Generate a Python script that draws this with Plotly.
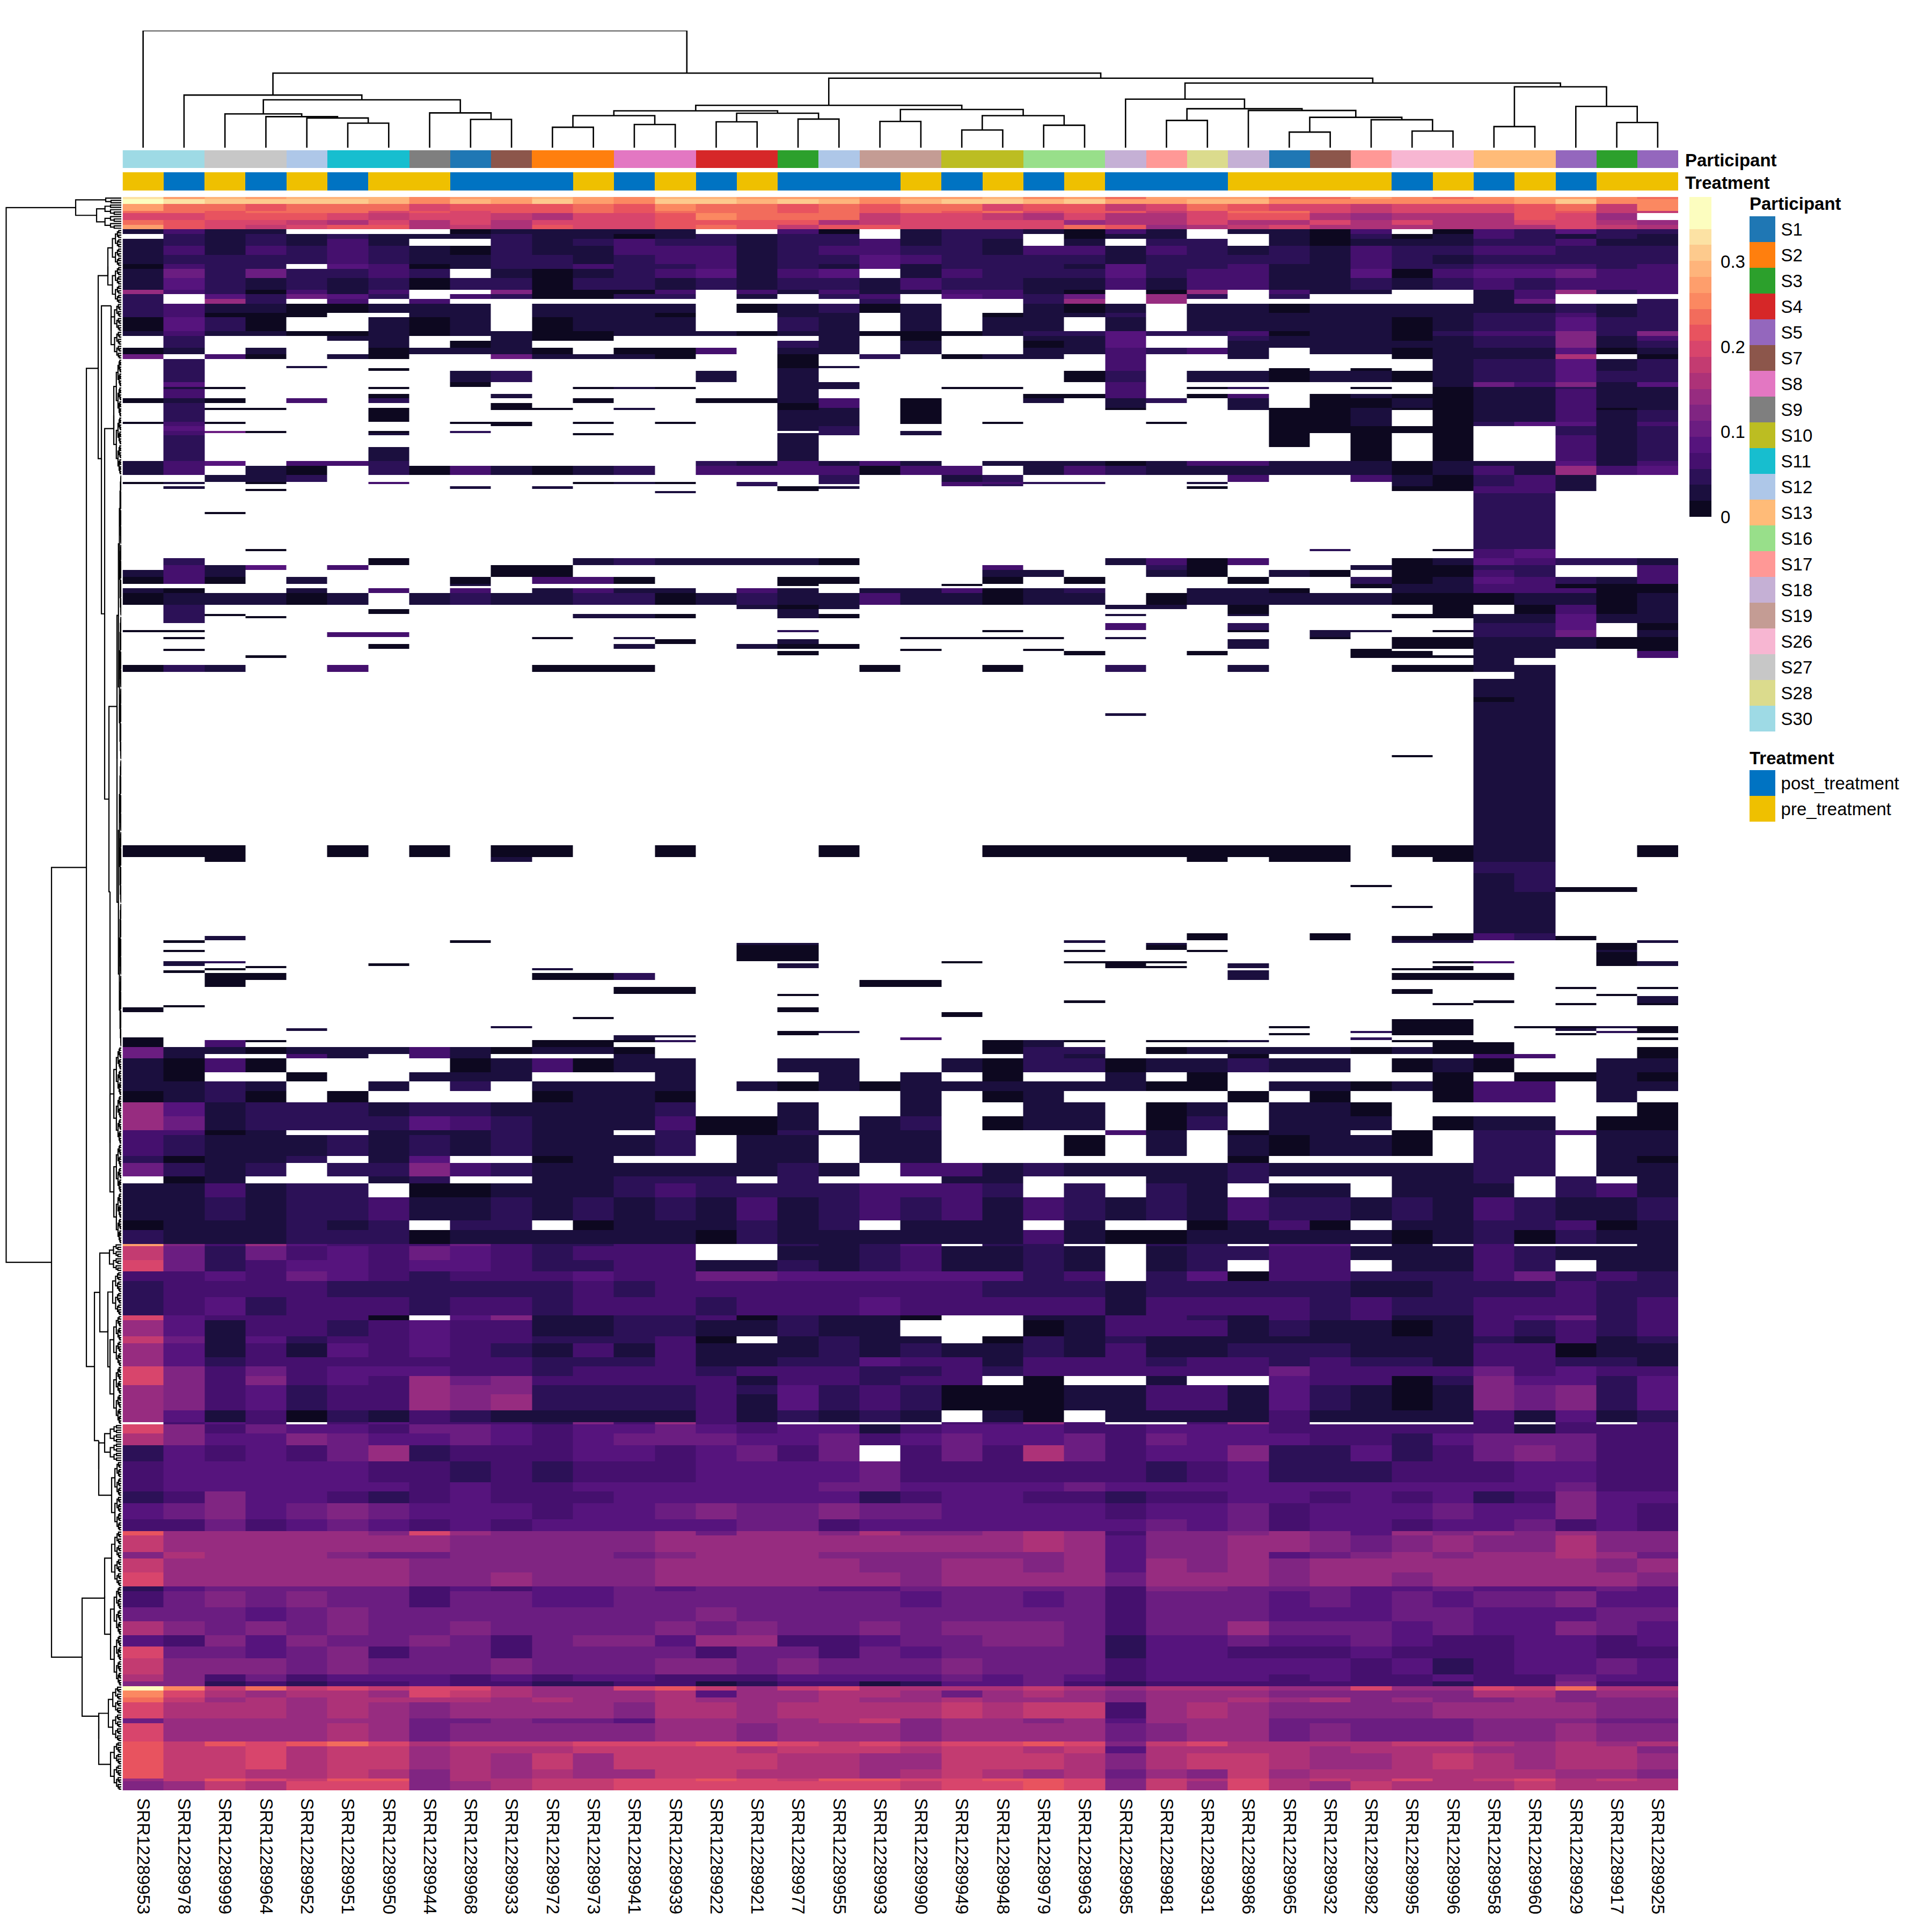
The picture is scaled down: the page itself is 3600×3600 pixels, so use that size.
import plotly.graph_objects as go

W, H = 3600, 3600
SAMPLES = ["SRR12289953","SRR12289978","SRR12289999","SRR12289964","SRR12289952","SRR12289951","SRR12289950","SRR12289944","SRR12289968","SRR12289933",
"SRR12289972","SRR12289973","SRR12289941","SRR12289939","SRR12289922","SRR12289921","SRR12289977","SRR12289955","SRR12289993","SRR12289990",
"SRR12289949","SRR12289948","SRR12289979","SRR12289963","SRR12289985","SRR12289981","SRR12289931","SRR12289986","SRR12289965","SRR12289932",
"SRR12289982","SRR12289995","SRR12289996","SRR12289958","SRR12289960","SRR12289929","SRR12289917","SRR12289925"]
PARTICIPANT = ["S30","S30","S27","S27","S12","S11","S11","S9","S1","S7","S2","S2","S8","S8","S4","S4","S3","S12","S19","S19",
"S10","S10","S16","S16","S18","S17","S28","S18","S1","S7","S17","S26","S26","S13","S13","S5","S3","S5"]
TREATMENT = ["pre","post","pre","post","pre","post","pre","pre","post","post","post","pre","post","pre","post","pre","post","post","post","pre",
"post","pre","post","pre","post","post","post","pre","pre","pre","pre","post","pre","post","pre","post","pre","pre"]
P_NAMES = ["S1","S2","S3","S4","S5","S7","S8","S9","S10","S11","S12","S13","S16","S17","S18","S19","S26","S27","S28","S30"]
P_COLORS = ["#1F77B4","#FF7F0E","#2CA02C","#D62728","#9467BD","#8C564B","#E377C2","#7F7F7F","#BCBD22","#17BECF","#AEC7E8","#FFBB78","#98DF8A","#FF9896","#C5B0D5","#C49C94","#F7B6D2","#C7C7C7","#DBDB8D","#9EDAE5"]
T_NAMES = ["post_treatment","pre_treatment"]
T_COLORS = ["#0073C2","#EFC000"]
HEAT_COLORS = ["#0D0820","#1B0F3E","#2C1157","#45106E","#56147D","#6B1D81","#802582","#972C80","#AD3278","#C33B71","#D8456C","#E8535F","#F26C5C","#FB8861","#FE9E6C","#FEB47B","#FDCA8D","#FCE2A4","#FCFDBF","#FCFDBF"]
ZMAX = 0.376
CODES = "0123456789abcdefghij"

# Each row: (number of features in the band, level codes per sample; "." = no value)
A1 = [(1,"hefefffdee fedffeeede efdecee ecce dcdeedc"),(2,"ihggggfdfe gedggfgfdf ggfgeeffdd ddddegdd")]
A2 = [(3,"eccbcccabb bcbdccbcbc cabb9acbaa 9aaabc9d"),(1,"ccbcccabab bcbcccbcbc bcabb9acca 9aaabb99"),
(3,"aabbba9aa9 8aabdccc9a a98a88abb8 7888ba7"),(2,"cbaa98a8a8 aaabbbb89 aaaa78 8a88 a8a88aa87"),(2,"eba9abb898 baabcb9bba aaacb789a8 88888a98")]
B = [(2,"1311....01 1111..30.1 221031.110 3.032422"),(2,".212121112 11012122.1 22.011..10 20132121"),(3,"1212131..2 1232212231 21.1.22.10 11122311"),
(4,"1313232102 1133312332 2133132121 32233222"),(4,"1222232112 2123312243 2222122221 32122222"),(2,"0322.43012 2322312141 2221422311 32233323"),
(4,"15252232.1 01234134.1 3222423311 40344533"),(5,"1421212022 0221212213 2211313311 21232333"),(2,"7320313..6 0003.31311 3310.07.31 1..13723"),
(2,"2.42542.32 0022.1.23. 4325.72.2. ...13..."),(2,"2.72.3.3.. ........2. ..27.7.... ...15..2")]
C = [(4,"231100111. 1111.01201 ..101.1101 11111212"),(2,"23000..11. 1110..11.1 .0112.1111 11122312"),(6,"0420..101. 0111..21.1 .11.1.1111 10122422"),
(2,"1311001011 0011101100 0122422301 10233626"),(2,".2...11..1 00.....1.0 ..114..211 10122613"),(3,".2....1.01 ......21.1 ..014..111 11122612"),
(3,"01.1..0111 0.003.11.1 ..113231.1 10111401"),(2,"5.30.10..5 1110..0.2. 011.3..1.. .01118.0")]
D = [(3,".2........ ......0... ....3..... ..122412"),(1,".2..1..... ......01.. ....3..... ..122412"),(1,".2....0... ......1... ....3...0. 0.122412"),
(5,".2......12 ....1.1... ...02.1101 10122422"),(2,".4......0. ......11.. ....3..... ..153614"),(1,".10...0... .010..11.. 00..3.02.. 0.011211"),
(2,".3........ ......1... ....3..... ..011311"),(2,".3....0..1 ......1... ..003.03.0 10011311"),(2,"010.3.2... .0..0013.0 ..1.12.1.0 01011311"),
(2,".2.......0 ......03.0 ....1..1.0 01011311"),(1,".200..0..0 0.1...01.0 ....0..100 10011301"),(5,".2....0... ......11.0 ........00 1.011312"),
(1,"030.....00 .0.0..11.0 .0...0..00 1.024413"),(1,".3.......0 ......11.. ........00 1.024413"),(2,".4........ ......12.. ........00 000..212"),
(1,".350..0.2. .......2.1 ........00 000..212"),(1,".3....1... .0....12.1 ........0. 0.0..212"),(5,".2........ ......1... ........0. 0.0..312"),
(6,".2....1... ......1... .......... 0.0..312"),(2,"134.332... ....213131 .111013311 10111413"),(4,"13.10.2031 012.333303 3.13211111 10131734")]
E = [(3,"..112..... .......2.. 12.....3.. 310231.."),(1,"01.0..3... .010.2.2.. 3322..1... .10231.."),(1,".......... .....2.... 32........ .10231.."),
(1,".1......1. 1.....01.. ......0... .00331.."),(1,"...0...... ......0... .......... .00331.."),(1,".......... ...1...... .......... ...33..."),
(8,".......... .......... .......... ...22..."),(1,"..0....... .......... .......... ...22..."),(9,".......... .......... .......... ...22..."),
(6,".......... .......... .......... ...22..."),(1,"...0...... .......... .........2 ..034..."),(3,".......... .......... .......... ...34..."),
(3,".2....0... .1211110.. ....1303.. .0143221"),(2,".314.3...0 0......... .3...20... 10022..3"),(3,"131......0 0......... .11..10.10 .0032..3"),
(3,"030.1...0. 330...00.. .0.0...0.. 20143213"),(1,"........1. ......0... 0......... 01133000"),(1,".......... .......... .......... 01133000"),(2,"10..1.3.3. 1311.31.11 3012..110. .1133300"),
(5,"011101.121 1220121131 1011.01111 10001101"),(2,".2........ .....101.. ....11.0.. ..0.0301"),(2,".2....0... ......1... .......0.. ..0.0301"),
(1,".20....... .110..10.. ....1..1.. .0011411"),(1,".2.0...... .110..10.. .......... .0011411"),(2,".2........ .......... .......... ...11411"),
(3,".......... .......... ....3..2.. ...224.0"),(1,"00........ ......2... .0.....0.1 1.0225.1"),(2,".....33... .......... .........1 ...225.1"),
(1,".0........ 0.1......0 000.1....0 .0011100"),(2,".......... ...0..1... .......1.. .0011100"),(2,"......0... ..1..100.. .......1.. .0011100"),
(1,".0........ .........0 ..0....... 0..11..0"),(2,".......... ......0... ...0..0... 00.11..3"),(1,"...0...... .......... .......... 00011..3"),
(3,".......... .......... .......... ...1...."),(3,"021..3.... 000.....0. .0..2..1.. .0011..."),
(3,".......... .......... .......... ....1..."),(8,".......... .......... .......... ...11..."),(2,".......... .......... .......... ...01..."),
(5,".......... .......... .......... ...11..."),(1,".......... .......... ....1..... ...11..."),(17,".......... .......... .......... ...11..."),
(1,".......... .......... .......... .0.11..."),(38,".......... .......... .......... ...11..."),(5,"000..0.0.0 0..0...0.. .000000000 .0011..0"),
(2,"..0......1 .......... ......0.00 ..011..."),(5,".......... .......... .......... ...22..."),(5,".......... .......... .......... ...12..."),
(1,".......... .......... .......... 0..12..."),(2,".......... .......... .......... ...1200."),(6,".......... .......... .......... ...11..."),(1,".......... .......... .......... .0.11..."),
(11,".......... .......... .......... ...11..."),
(1,".......... .......... ......0..0 ..032..."),(2,"..1....... .......... ......0..0 .00320.."),(1,".0......0. .......... ...1...... .11....1"),
(1,".......... .....11... .....1.... ......0."),(2,".......... .....00... .....0.... ......0."),(1,".0........ .....00... ...0..0... ......1."),
(4,".......... .....00... .......... ......0."),(1,".12....... .......... 0..000.... ..03..01"),(1,".1....0... ......1... ....0..1.. ......01"),
(1,"...0...... ......1... ....00.1.. ..0....."),(1,"..0....... 1......... .......... .00....."),(1,".0........ .......... .......1.. ........"),
(3,"..00...... 002....... .......1.. .000...."),(3,"..0....... ........00 .......... ........"),(1,".......... ..00...... .......... .....0.0"),
(2,".......... ..00...... .......... .0......"),(1,".......... ......0... .......... ......0."),(2,".......... .......... .......... .......1"),
(1,".......... .......... ...0...... ...0...1"),(1,".......... .......... .......... ..0..0.0"),(1,".0........ .......... .......... ........"),
(2,"0......... ......0... .......... ........"),(2,".......... .......... 0......... ........"),(1,".......... .0........ .......... ........"),
(3,".......... .......... .......... .00....."),(1,".........1 .......... ........0. .00.0010"),(1,"....1..... .......... .......... .00..1.0"),
(1,".......... ......01.. .......... 200...20"),(1,".......... ......0... ........0. .00..0.."),(1,".......... ..11...... .......... ........"),
(1,"0......... ..1......3 .......... 2......0"),(1,"0.30...... 0002...... .010.001.. .00....."),(2,"0.3....... 00........ .01....... ..00....")]
F = [(3,"5110111310 110....... .022.01111 0100...0"),(2,"51..31.31. ..1....... ..21...0.. ...33..0"),(6,"1030....01 3011..11.. 1022011211 .010..11"),
(4,"10..0..111 ...1...1.1 .0..1.0... ..0.0010"),(4,"1121..1.2. 1111.10101 1111100.11 01033.11"),(5,"0120.0.... 0110.....1 .01....0.0 ..033.1."),
(6,"7412221221 1112..1..1 ..11.01.11 0......0"),(6,"7512222432 1113001.12 .011.02.11 1.011.00"),(2,"3301..1112 11.2002111 ....31.011 .0.22311"),
(9,"3211121212 1112.11.11 ...0.1.101 10.22.11"),(3,"20112.14.. 01...11.11 .......0.. ...22.10"),(6,"5212.22632 11111121.3 3121111211 11122.11"),
(3,".01...12.. 11222.2... 11...112.. .112.2.1"),(6,"113122.001 1123222233 32.2.21.11 .111.231"),(10,"1121223112 1212131232 3132121322 12132112"),
(4,"0111212.22 .0111212.1 11.1..0130 .1122301"),(6,"2111222011 1111021111 1131001111 10120211")]
S1 = [(1,"e637433353 2233..2124 .22..22.44 .1.3...1"),(6,"9525343543 2333..1123 1121.12233 11132111"),(5,"a523443443 2233112123 1121.12.33 .1132.11")]
S2 = [(4,"3343543233 3433554444 4423.24033 22235232"),(7,"2333322222 2323333333 3222122222 11222322"),(8,"2342333233 2333233343 3333133332 32233323")]
S3 = [(2,"a433330.46 1122302110 ..11332132 31134523"),(7,"7413323433 112211211. ..01333121 10132323"),(3,"9514233433 22230.1211 .021211111 11121312"),
(6,"7413143432 1313111212 1121311222 11133011"),(4,"7423333333 2223112243 3133323323 22133221")]
S4 = [(4,"a635344433 2333233322 3233333353 33353433"),(4,"a636343756 3333313323 3.0..1..43 30264424"),(4,"7634233766 2222324232 0001133142 10165624"),
(7,"7634233767 2222314232 0001133142 10165624"),(5,"7413021321 1111312121 .10.111131 11131412"),(1,".343.34333 263733.... 3373..373. ...3.3.3")]
S5 = [(4,"a635443554 3445434413 4443344433 33331333"),(5,"8644654454 3455544534 5445354443 32455533"),(7,"2434357233 34434535.3 5385344622 42356533")]
S6 = [(9,"3444443323 2333444453 3333323422 23334433"),(4,"3444444343 3444444554 4445444444 44444533"),(5,"2364432343 3344444423 4433233443 43423644"),
(7,"4564565444 3445655655 4444344534 44544643"),(5,"3353454343 4444455344 4444454534 43445343")]
S7 = [(2,"b777776a76 6667577686 6787366676 47676766"),(7,"9777777766 6667777777 7787466776 56766866"),(3,"6877765566 6656777666 6667466745 67677875"),
(6,"9777777666 6667777766 7767476767 77777767"),(6,"a777777667 6667777776 7777577767 76777776")]
S8 = [(2,"2455555343 4454555445 5555366555 44544454"),(7,"3565655355 4455555554 5545355545 45455644"),(6,"5554565555 5555655555 5555355544 45544455"),
(6,"8656565565 5556565565 6665355755 54544654"),(5,"4364655653 5664773345 5665244544 54334434"),(5,"a554563553 5555355354 5555244333 43334433"),
(7,"9666565556 5556656555 6555344444 34234454"),(3,"8635344434 3443334444 5454344434 33433544"),(2,"6623233433 2233123312 4453233333 33233633")]
S9 = [(2,"id9c9a9aa8 77ab979a88 8898788877 a77a9c88"),(3,"da87887a98 7778477887 5787677766 66688677"),(2,"c978788887 8778777877 8777677878 67667666"),
(7,"a888787677 7768878888 9899378766 66777766"),(2,"5777777556 5547777896 7767477755 55566655"),(8,"a777787566 6667767776 7777567756 55566766")]
S10 = [(2,"b9babca899 9aaabba9a9 aaba69a888 89987878"),(3,"b99a899788 8999989998 9989488887 88877886"),(7,"b99a899787 9799998877 9998689987 78987887"),
(4,"b998898687 8779988878 9878576978 88888776"),(1,"79ba9bb688 99aaba9bba abba698a89 8a89a898"),(4,"6798aaa678 99aaaaaaa9 aaba697a87 98889888")]
SECTIONS = {"A1":A1,"A2":A2,"B":B,"C":C,"D":D,"E":E,"F":F,"S1":S1,"S2":S2,"S3":S3,"S4":S4,"S5":S5,"S6":S6,"S7":S7,"S8":S8,"S9":S9,"S10":S10}

# Dendrogram merge heights
COL_TREE = (342,0,(218,(154,1,(140,(99,2,(91,3,(87,4,(72,5,6)))),(102,7,(83,8,9)))),
 (203,(124,(108,(94,(60,10,11),(68,12,13)),(101,(76,14,15),(84,16,17))),(112,(77,18,19),(94,(52,20,21),(66,22,23)))),
 (189,(142,24,(114,(80,25,26),(109,27,(89,(46,28,29),(82,30,(49,31,32)))))),(178,(62,33,34),(121,35,(74,36,37)))))))
# node: (height, left, right[, row position]); leaf section: (name, height[, row position])
ROW_TREE = (214.5,(85,("A1",29),("A2",46)),(130,(65,(43,("B",25,34),(37,("C",19,47),(31,("D",14,100),(23,("E",8,220),("F",21,300),260),180),113),74),
 (50,(40,("S1",22,456),(25,("S2",16),(21,("S3",14),("S4",14)),490),473),(42,("S5",31),("S6",18),537),505)),
 (73,(31,("S7",18),("S8",20),605),(42,("S9",24),("S10",20),656))))
TICKS = [0,0.1,0.2,0.3]

def px_x(a,b): return [a/W,b/W]
def px_y(a,b): return [1-b/H,1-a/H]
def stepped(cols):
    n=len(cols); out=[]
    for i,c in enumerate(cols):
        out += [[i/n,c],[(i+1)/n,c]]
    return out
def parse(s):
    parts=s.split(); lens=[10,10,10,8]; res=[]
    if len(parts)!=4:
        j="".join(parts); parts=[j[:10],j[10:20],j[20:30],j[30:38]]
    for p,l in zip(parts,lens):
        p=(p+"."*l)[:l]
        res += [None if c=="." else (CODES.index(c)+0.5)*ZMAX/20 for c in p]
    return res

z=[]; edges=[0]; sec_range={}
for name,rows in SECTIONS.items():
    start=edges[-1]
    for span,s in rows:
        z.append(parse(s)); edges.append(edges[-1]+span)
    sec_range[name]=(start,edges[-1])
total=edges[-1]
xedges=list(range(39))
centers=[i+0.5 for i in range(38)]

fig=go.Figure()
fig.add_trace(go.Heatmap(z=z,x=xedges,y=edges,colorscale=stepped(HEAT_COLORS),zmin=0,zmax=ZMAX,hoverongaps=False,hoverinfo="skip",
  colorbar=dict(lenmode="pixels",len=596,thicknessmode="pixels",thickness=41,x=3148/W,xanchor="left",y=1-367/H,yanchor="top",
   xpad=0,ypad=0,outlinewidth=0,tickvals=TICKS,ticktext=["0","0.1","0.2","0.3"],ticks="outside",ticklen=11,tickcolor="rgba(0,0,0,0)",
   tickfont=dict(size=33,color="black",family="Liberation Sans"))))
fig.add_trace(go.Heatmap(z=[[P_NAMES.index(p) for p in PARTICIPANT]],x=xedges,y=[0,1],colorscale=stepped(P_COLORS),zmin=0,zmax=20-1e-9,showscale=False,yaxis="y2",hoverinfo="skip"))
fig.add_trace(go.Heatmap(z=[[T_NAMES.index(t+"_treatment") for t in TREATMENT]],x=xedges,y=[0,1],colorscale=stepped(T_COLORS),zmin=0,zmax=2-1e-9,showscale=False,yaxis="y3",hoverinfo="skip"))
fig.add_trace(go.Heatmap(z=[[i] for i in range(20)],y=P_NAMES,x=["k"],colorscale=stepped(P_COLORS),zmin=0,zmax=20-1e-9,showscale=False,xaxis="x4",yaxis="y6",hoverinfo="skip"))
fig.add_trace(go.Heatmap(z=[[i] for i in range(2)],y=T_NAMES,x=["k"],colorscale=stepped(T_COLORS),zmin=0,zmax=2-1e-9,showscale=False,xaxis="x5",yaxis="y7",hoverinfo="skip"))

# column dendrogram
cx=[];cy=[]
def col_walk(t):
    if isinstance(t,int): return t+0.5,0
    h,a,b=t
    xa,ha=col_walk(a); xb,hb=col_walk(b)
    cx.extend([xa,xa,xb,xb,None]); cy.extend([ha,h,h,hb,None])
    return (xa+xb)/2,h
col_walk(COL_TREE)
fig.add_trace(go.Scatter(x=cx,y=cy,mode="lines",line=dict(color="black",width=2.6),yaxis="y4",hoverinfo="skip",showlegend=False))

# row dendrogram
rx=[];ry=[]
def comb(lo,hi,h):
    if hi-lo==1: return lo+0.5,0
    mid=(lo+hi)//2
    a,ha=comb(lo,mid,h*0.66); b,hb=comb(mid,hi,h*0.66)
    ry.extend([a,a,b,b,None]); rx.extend([ha,h,h,hb,None])
    return (a+b)/2,h
def place(y,h,target):
    if target is not None:
        ry.extend([y,target,None]); rx.extend([h,h,None])
        return target
    return y
def row_walk(t):
    if isinstance(t[0],str):
        lo,hi=sec_range[t[0]]
        y,h=comb(lo,hi,t[1])
        return place(y,h,t[2] if len(t)>2 else None),h
    h,a,b=t[:3]
    ya,ha=row_walk(a); yb,hb=row_walk(b)
    ry.extend([ya,ya,yb,yb,None]); rx.extend([ha,h,h,hb,None])
    return place((ya+yb)/2,h,t[3] if len(t)>3 else None),h
row_walk(ROW_TREE)
fig.add_trace(go.Scatter(x=rx,y=ry,mode="lines",line=dict(color="black",width=2.2),xaxis="x2",hoverinfo="skip",showlegend=False))

hide=dict(visible=False,showgrid=False,zeroline=False)
FONT=dict(size=33,color="black",family="Liberation Sans")
fig.update_layout(width=W,height=H,autosize=False,margin=dict(l=0,r=0,t=0,b=0),paper_bgcolor="white",plot_bgcolor="white",showlegend=False,
 xaxis=dict(domain=px_x(228.5,3127),range=[0,38],tickmode="array",tickvals=centers,ticktext=SAMPLES,tickangle=90,tickfont=FONT,ticks="outside",ticklen=7,tickcolor="rgba(0,0,0,0)",showgrid=False,zeroline=False,showline=False,anchor="y"),
 yaxis=dict(domain=px_y(367,3336),range=[total,0],**hide),
 yaxis2=dict(domain=px_y(280,313),range=[0,1],anchor="x",**hide),
 yaxis3=dict(domain=px_y(321,355),range=[0,1],anchor="x",**hide),
 yaxis4=dict(domain=px_y(57,275.5),range=[0,342],anchor="x",**hide),
 xaxis2=dict(domain=px_x(0,226),range=[226,0],anchor="y",**hide),
 xaxis4=dict(domain=px_x(3260,3308),anchor="y6",**hide),
 yaxis6=dict(domain=px_y(403,1363),anchor="x4",side="right",autorange="reversed",tickfont=FONT,ticks="outside",ticklen=3,tickcolor="rgba(0,0,0,0)",showgrid=False,zeroline=False,showline=False,tickmode="array",tickvals=P_NAMES,ticktext=P_NAMES),
 xaxis5=dict(domain=px_x(3260,3308),anchor="y7",**hide),
 yaxis7=dict(domain=px_y(1435,1531),anchor="x5",side="right",autorange="reversed",tickfont=FONT,ticks="outside",ticklen=3,tickcolor="rgba(0,0,0,0)",showgrid=False,zeroline=False,showline=False,tickmode="array",tickvals=T_NAMES,ticktext=T_NAMES),
)
for txt,xp,yp in [("Participant",3140,298),("Treatment",3140,340),("Participant",3260,380),("Treatment",3260,1412)]:
    fig.add_annotation(text="<b>%s</b>"%txt,x=xp/W,y=1-yp/H,xref="paper",yref="paper",xanchor="left",yanchor="middle",showarrow=False,font=FONT,borderpad=0,xshift=-1)
fig.write_html("out.html",config={"displayModeBar":False},post_script="document.body.style.margin='0';")
